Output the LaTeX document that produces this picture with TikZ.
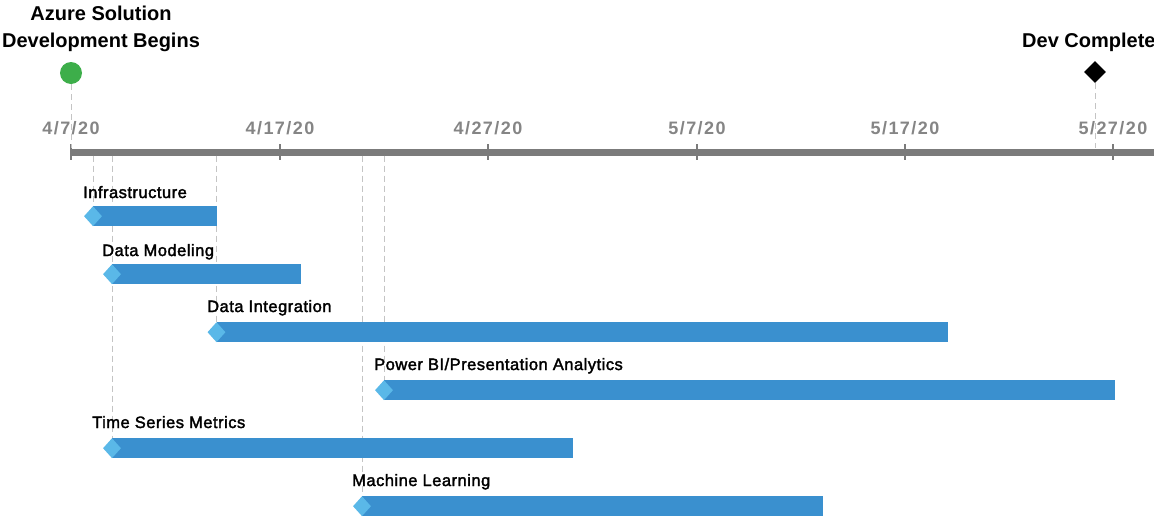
\documentclass[tikz,border=0pt]{standalone}
\usepackage{fontspec}
\setmainfont{Liberation Sans}
\newfontfamily\labfont[LetterSpace=3,FakeBold=2]{Liberation Sans}
\newfontfamily\axfont[LetterSpace=8]{Liberation Sans}
\usetikzlibrary{shapes.geometric}
\definecolor{barblue}{HTML}{3A90CF}
\definecolor{lightblue}{HTML}{5AB8E8}
\definecolor{startgreen}{HTML}{3DAE4A}
\definecolor{axisgray}{HTML}{7B7B7B}
\definecolor{labgray}{HTML}{858585}
\definecolor{guidegray}{HTML}{C4C4C4}
\begin{document}
\begin{tikzpicture}[x=1pt,y=-1pt,
  taskbar/.style={fill=barblue,draw=none,inner sep=0pt,minimum height=20pt,anchor=north west},
  startmark/.style={diamond,fill=lightblue,draw=none,inner sep=0pt,minimum width=18pt,minimum height=20pt},
  tasklabel/.style={anchor=base west,inner sep=0pt,font=\labfont\fontsize{16.5}{18}\selectfont,text=black},
  datelabel/.style={anchor=base,inner sep=0pt,font=\axfont\bfseries\fontsize{18}{20}\selectfont,text=labgray},
  milestonetext/.style={inner sep=0pt,font=\bfseries\fontsize{20}{27}\selectfont,text=black},
  guide/.style={draw=guidegray,line width=1pt,dash pattern=on 6pt off 4pt},
  tickmark/.style={draw=axisgray,line width=2pt}
]
\useasboundingbox (0,0) rectangle (1154,517);

% axis
\node[fill=axisgray,inner sep=0pt,minimum width=1090pt,minimum height=7pt,anchor=west] (axis) at (71,152) {};
\foreach \x in {71,280,488,697,905,1113}{
  \draw[tickmark] (\x,144) -- (\x,160);
}
\node[datelabel] (d1) at (71,134) {4/7/20};
\node[datelabel] (d2) at (280,134) {4/17/20};
\node[datelabel] (d3) at (488,134) {4/27/20};
\node[datelabel] (d4) at (697,134) {5/7/20};
\node[datelabel] (d5) at (905,134) {5/17/20};
\node[datelabel] (d6) at (1113,134) {5/27/20};

% milestones
\node[circle,fill=startgreen,inner sep=0pt,minimum size=22pt] (start) at (71,73) {};
\node[diamond,fill=black,inner sep=0pt,minimum width=22pt,minimum height=22pt] (devdone) at (1095,72) {};
\node[milestonetext,align=center,anchor=base] (starttext) at (101,47) {Azure Solution\\Development Begins};
\node[milestonetext,anchor=base west] (donetext) at (1022,47) {Dev Complete};

% bars
\path
  node[taskbar,minimum width=123.5pt] (infra) at (93,206) {}
  node[taskbar,minimum width=189pt] (datamod) at (112,264) {}
  node[taskbar,minimum width=731pt] (dataint) at (216.5,322) {}
  node[taskbar,minimum width=731pt] (powerbi) at (384,380) {}
  node[taskbar,minimum width=461pt] (timeser) at (112,438) {}
  node[taskbar,minimum width=461pt] (ml) at (362,496) {};

% guides
\draw[guide] (start.south) -- (start.south |- axis.north);
\draw[guide] (devdone.south) -- (devdone.south |- axis.north);
\draw[guide] (infra.north west |- axis.south) -- (infra.north west);
\draw[guide] (timeser.north west |- axis.south) -- (timeser.north west);
\draw[guide] (dataint.north west |- axis.south) -- (dataint.north west);
\draw[guide] (ml.north west |- axis.south) -- (ml.north west);
\draw[guide] (powerbi.north west |- axis.south) -- (powerbi.north west);

% bars painted over the guides
\foreach \b in {infra,datamod,dataint,powerbi,timeser,ml}{
  \fill[barblue] (\b.north west) rectangle (\b.south east);
}

% start diamonds
\node[startmark] (s1) at (infra.west) {};
\node[startmark] (s2) at (datamod.west) {};
\node[startmark] (s3) at (dataint.west) {};
\node[startmark] (s4) at (powerbi.west) {};
\node[startmark] (s5) at (timeser.west) {};
\node[startmark] (s6) at (ml.west) {};

% labels
\node[tasklabel] (l1) at (83,198) {Infrastructure};
\node[tasklabel] (l2) at (102,256) {Data Modeling};
\node[tasklabel] (l3) at (207,312) {Data Integration};
\node[tasklabel] (l4) at (374,370) {Power BI/Presentation Analytics};
\node[tasklabel] (l5) at (92,428) {Time Series Metrics};
\node[tasklabel] (l6) at (352,486) {Machine Learning};
\end{tikzpicture}
\end{document}
